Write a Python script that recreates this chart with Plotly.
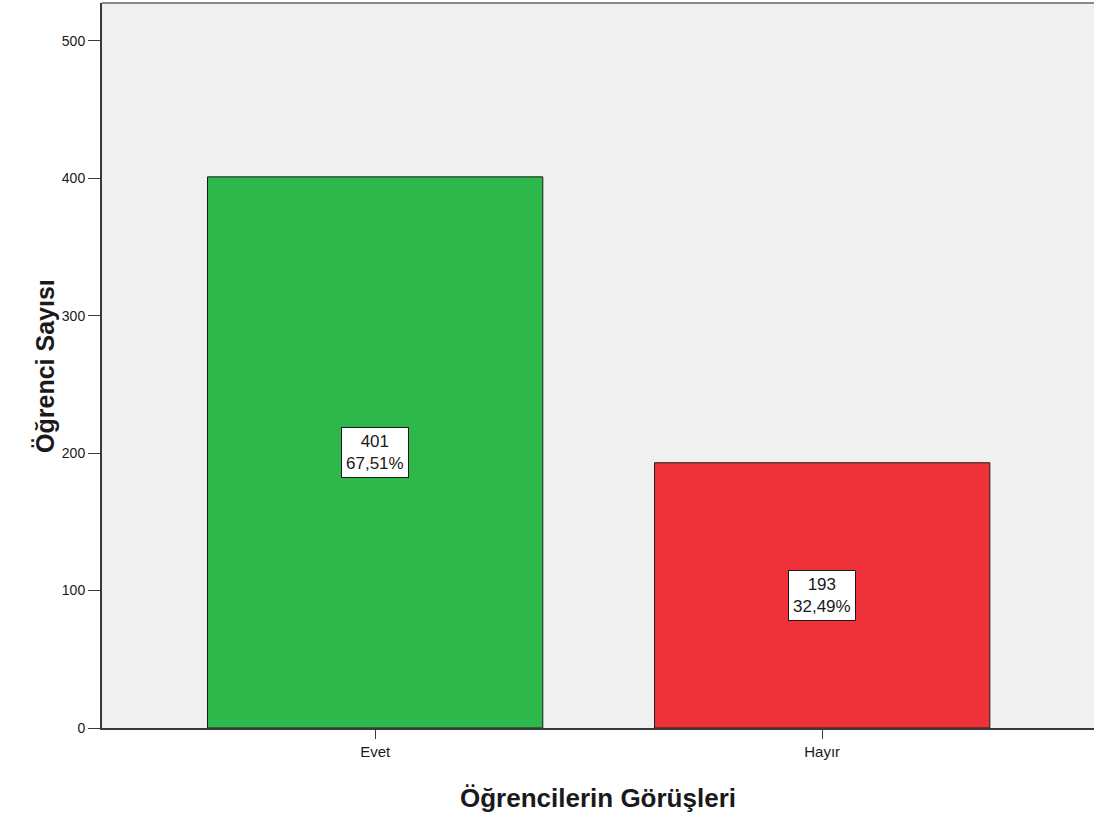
import plotly.graph_objects as go

# kategori ve değerler
kategoriler = ["Evet", "Hayır"]
sayilar = [401, 193]
yuzdeler = ["67,51%", "32,49%"]
renkler = ["#2eb84b", "#ef323a"]

fig = go.Figure(
    go.Bar(
        x=kategoriler,
        y=sayilar,
        width=0.75,
        marker=dict(color=renkler, line=dict(color="#1a1a1a", width=1)),
        hoverinfo="skip",
    )
)

# kutucuk etiketleri (çubuğun ortasında)
for k, s, p in zip(kategoriler, sayilar, yuzdeler):
    fig.add_annotation(
        x=k,
        y=s / 2,
        text=f"{s}<br>{p}",
        showarrow=False,
        font=dict(family="Liberation Sans", size=17, color="#1a1a1a"),
        bgcolor="white",
        bordercolor="#1a1a1a",
        borderwidth=1,
        borderpad=4,
    )

# y ekseni başlığı (annotation olarak)
fig.add_annotation(
    text="<b>Öğrenci Sayısı</b>",
    xref="paper", yref="paper", x=-0.058, y=0.5,
    xanchor="center", yanchor="middle", textangle=-90,
    showarrow=False, font=dict(size=25, color="#1a1a1a"),
)

# üst kenar çizgisi
fig.add_shape(
    type="line", xref="paper", yref="paper", x0=0, x1=1, y0=1, y1=1,
    line=dict(color="#8a8a8a", width=2),
)

fig.update_layout(
    width=1094,
    height=821,
    margin=dict(l=102, r=0, t=3, b=93),
    paper_bgcolor="white",
    plot_bgcolor="#f0f0f0",
    font=dict(family="Liberation Sans", color="#1a1a1a"),
    showlegend=False,
)

fig.update_xaxes(
    range=[-0.611, 1.608],
    showgrid=False,
    showline=True,
    linecolor="#3a3a3a",
    linewidth=2,
    ticks="outside",
    ticklen=9,
    tickcolor="#3a3a3a",
    tickfont=dict(size=15),
    title=dict(text="<b>Öğrencilerin Görüşleri</b>", font=dict(size=26), standoff=30),
)

fig.update_yaxes(
    range=[0, 527.5],
    tickvals=[0, 100, 200, 300, 400, 500],
    showgrid=False,
    zeroline=False,
    showline=True,
    linecolor="#3a3a3a",
    linewidth=2,
    ticks="outside",
    ticklen=12,
    tickcolor="#3a3a3a",
    tickfont=dict(size=14),
)

fig.write_html(
    "out.html",
    config={"displayModeBar": False},
    post_script="document.body.style.margin='0';",
)
